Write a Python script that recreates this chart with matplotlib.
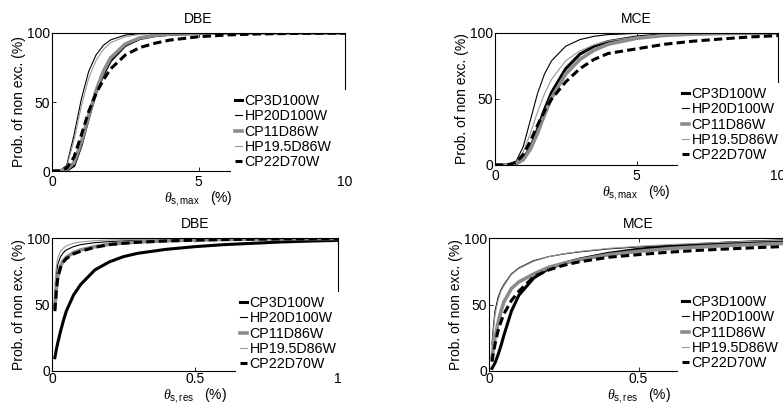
import numpy as np
import matplotlib
matplotlib.use("Agg")
import matplotlib.pyplot as plt
from matplotlib.patches import Rectangle

plt.rcParams['font.family'] = ['Liberation Sans', 'DejaVu Sans']
plt.rcParams['font.size'] = 10
plt.rcParams['mathtext.fontset'] = 'custom'
plt.rcParams['mathtext.rm'] = 'Liberation Sans'
plt.rcParams['mathtext.it'] = 'Liberation Serif:italic'
plt.rcParams['mathtext.sf'] = 'Liberation Sans'
plt.rcParams['lines.scale_dashes'] = False

names = ["CP3D100W", "HP20D100W", "CP11D86W", "HP19.5D86W", "CP22D70W"]

## peak drift (%)
x_max = [0, 0.25, 0.5, 0.75, 1, 1.25, 1.5, 1.75, 2, 2.5, 3, 3.5, 4, 5, 6, 7, 8, 9, 10]

dbe_max = [
    [0, 0, 0.5, 4, 19, 39, 57, 70, 80, 91, 96, 98, 99, 99.7, 99.9, 100, 100, 100, 100],
    [0, 0, 4, 26, 52, 72, 84, 91, 95, 98.5, 99.5, 99.8, 100, 100, 100, 100, 100, 100, 100],
    [0, 0, 1, 6, 21, 40, 58, 72, 82, 92, 96.5, 98.3, 99.2, 99.8, 100, 100, 100, 100, 100],
    [0, 0, 3, 22, 47, 67, 80, 88, 93, 97.3, 99, 99.6, 99.8, 100, 100, 100, 100, 100, 100],
    [0, 0, 2, 10, 26, 43, 56, 66, 74, 84, 89.5, 92.5, 94.8, 97.3, 98.6, 99.3, 99.6, 99.8, 99.9],
]

mce_max = [
    [0, 0, 0, 1, 5, 13, 27, 42, 55, 73, 84, 90, 93.5, 97, 98.7, 99.4, 99.8, 99.9, 100],
    [0, 0, 0.5, 3, 14, 34, 54, 69, 79, 90, 95, 97.5, 98.8, 99.7, 100, 100, 100, 100, 100],
    [0, 0, 0, 1, 4, 12, 24, 38, 51, 69, 80, 87, 91.5, 96, 98.2, 99.2, 99.6, 99.8, 99.9],
    [0, 0, 0.3, 2, 10, 24, 40, 54, 65, 79, 86.5, 91, 94, 97, 98.6, 99.4, 99.7, 99.9, 100],
    [0, 0, 0.5, 2, 8, 18, 30, 41, 50, 63, 73, 80, 84.5, 88, 91.5, 93.8, 95.5, 97, 98],
]

## residual drift (%)
x_res = [0.01, 0.015, 0.02, 0.03, 0.04, 0.05, 0.075, 0.1, 0.15, 0.2, 0.25, 0.3, 0.4, 0.5, 0.6, 0.7, 0.8, 0.9, 1.0]

dbe_res = [
    [10, 16, 21, 30, 38, 45, 57, 65, 76, 82, 86, 88.5, 91.5, 93.5, 95, 96, 97, 97.7, 98.2],
    [58, 72, 80, 86, 89, 91, 93.5, 95, 96.5, 97.3, 97.8, 98.2, 98.7, 99, 99.2, 99.4, 99.5, 99.6, 99.7],
    [48, 62, 71, 79, 83, 85.5, 89, 91, 93.5, 95.3, 96.3, 97, 97.9, 98.5, 98.9, 99.2, 99.4, 99.5, 99.6],
    [65, 78, 85, 90, 92.5, 94, 96, 97, 98, 98.5, 98.8, 99, 99.3, 99.5, 99.6, 99.7, 99.8, 99.8, 99.9],
    [45, 60, 70, 78, 82, 84.5, 88, 90, 93, 95, 96, 96.8, 97.8, 98.4, 98.8, 99.1, 99.3, 99.5, 99.6],
]

mce_res = [
    [2, 4, 6, 12, 19, 27, 45, 57, 70, 77, 81, 84, 88.5, 91.5, 93.5, 95, 96.3, 97.2, 98],
    [20, 34, 45, 55, 61, 65, 73, 77.5, 83, 86, 88, 89.5, 91.8, 93.3, 94.5, 95.5, 96.3, 97, 97.6],
    [10, 18, 25, 36, 45, 52, 62, 67, 73, 78, 81, 83.5, 87.5, 90, 92, 93.3, 94.4, 95.3, 96],
    [17, 31, 42, 53, 60, 64, 72.5, 77, 82.5, 86, 88.2, 89.8, 92.2, 93.8, 95, 96, 96.9, 97.7, 98.4],
    [7, 14, 20, 30, 37, 43, 53, 60, 71, 76, 79.5, 82, 85.5, 87.5, 89.3, 90.7, 91.8, 92.8, 93.7],
]

# colour, width, dashed
styles = [('k', 2.2, False), ('k', 0.8, False), ('0.55', 2.6, False),
          ('0.6', 0.8, False), ('k', 2.2, True)]

W, H = 783, 405
fig = plt.figure(figsize=(W / 100, H / 100), dpi=100)

def px_box(l, t, r, b):
    return [l / W, 1 - b / H, (r - l) / W, (b - t) / H]

panels = [
    # pixel box, legend corner, x, ys, title, xticks, xlabel, tick pad
    ((52, 33, 345, 171), (231, 90), x_max, dbe_max, "DBE", [0, 5, 10], r'$\theta_{\mathrm{s,max}}$   (%)', 3),
    ((495, 33, 778, 165), (678, 83), x_max, mce_max, "MCE", [0, 5, 10], r'$\theta_{\mathrm{s,max}}$   (%)', 3),
    ((52, 238, 338, 371), (236, 292), x_res, dbe_res, "DBE", [0, 0.5, 1], r'$\theta_{\mathrm{s,res}}$   (%)', 1),
    ((489, 238, 788, 371), (678, 291), x_res, mce_res, "MCE", [0, 0.5, 1], r'$\theta_{\mathrm{s,res}}$   (%)', 1),
]

for box, leg, xs, ys, title, xt, xl, xpad in panels:
    ax = fig.add_axes(px_box(*box))
    for i in range(len(names)):
        c, lw, dashed = styles[i]
        line, = ax.plot(xs, ys[i], color=c, lw=lw, label=names[i])
        if dashed:
            line.set_dashes((6, 3))
    ax.set_xlim(xt[0], xt[-1])
    ax.set_ylim(0, 100)
    ax.set_xticks(xt)
    ax.set_xticklabels([('%g' % v) for v in xt])
    ax.set_yticks([0, 50, 100])
    ax.tick_params(direction='in', top=True, right=True, length=3, width=0.6,
                   labelsize=10)
    ax.tick_params(axis='y', pad=1.5)
    ax.tick_params(axis='x', pad=xpad)
    for s in ax.spines.values():
        s.set_linewidth(0.8)
    ax.set_title(title, fontsize=10, pad=7)
    ax.set_ylabel("Prob. of non exc. (%)", labelpad=0.5)
    ax.set_xlabel(xl, labelpad=0)

    # white legend box hiding the lower right corner of the frame
    lx, ly = leg
    ax.add_patch(Rectangle((lx / W, 1 - (box[3] + 2) / H), (box[2] + 6 - lx) / W,
                           (box[3] + 2 - ly) / H, transform=fig.transFigure,
                           facecolor='white', edgecolor='none', clip_on=False, zorder=3))
    ax.legend(loc='upper left', bbox_to_anchor=(lx / W, 1 - ly / H),
              bbox_transform=fig.transFigure, frameon=False, fontsize=10.3,
              handlelength=0.5, handletextpad=0.15, labelspacing=0.08,
              borderpad=0.3, borderaxespad=0)

fig.savefig("out.png", dpi=100)
